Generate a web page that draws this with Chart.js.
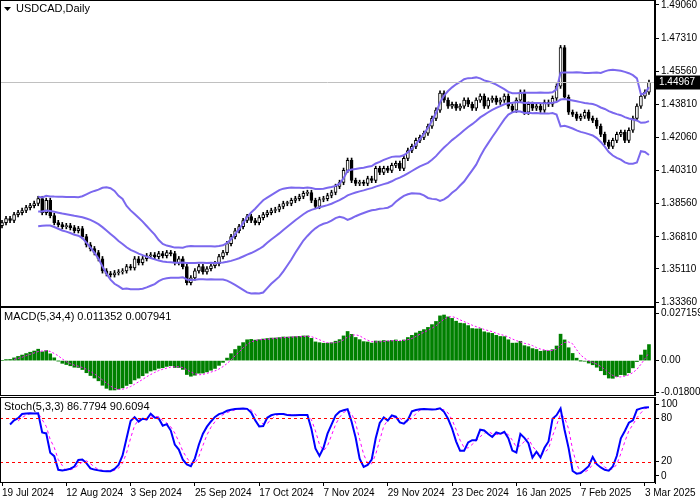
<!DOCTYPE html>
<html><head><meta charset="utf-8">
<script src="https://cdn.jsdelivr.net/npm/chart.js@4"></script>
<style>
body{margin:0;background:#fff;width:700px;height:500px;overflow:hidden;position:relative}
canvas{position:absolute;left:0}
</style></head><body>
<canvas id="c1" width="700" height="307" style="top:0"></canvas>
<canvas id="c2" width="700" height="89" style="top:307px"></canvas>
<canvas id="c3" width="700" height="103" style="top:397px"></canvas>
<script>
const closes=[1.3756,1.3777,1.3767,1.3798,1.3809,1.3820,1.3835,1.3846,1.3857,1.3883,1.3809,1.3873,1.3793,1.3756,1.3745,1.3735,1.3740,1.3729,1.3713,1.3724,
1.3682,1.3639,1.3618,1.3597,1.3565,1.3501,1.3486,1.3480,1.3491,1.3496,1.3501,1.3523,1.3517,1.3565,1.3544,1.3565,1.3581,1.3586,1.3576,1.3592,
1.3581,1.3597,1.3592,1.3544,1.3565,1.3523,1.3438,1.3464,1.3501,1.3523,1.3496,1.3512,1.3528,1.3539,1.3576,1.3597,1.3645,1.3682,1.3713,1.3735,
1.3767,1.3788,1.3767,1.3756,1.3782,1.3798,1.3809,1.3820,1.3825,1.3841,1.3857,1.3857,1.3873,1.3883,1.3894,1.3910,1.3915,1.3873,1.3841,1.3878,
1.3883,1.3899,1.3915,1.3947,1.3968,1.4032,1.4085,1.3979,1.3963,1.3968,1.3963,1.3989,1.3979,1.4042,1.4021,1.4042,1.4032,1.4058,1.4069,1.4042,
1.4095,1.4137,1.4159,1.4190,1.4206,1.4228,1.4265,1.4307,1.4350,1.4440,1.4403,1.4371,1.4381,1.4360,1.4371,1.4403,1.4381,1.4360,1.4403,1.4424,
1.4371,1.4403,1.4413,1.4392,1.4403,1.4424,1.4371,1.4350,1.4403,1.4445,1.4339,1.4381,1.4360,1.4371,1.4350,1.4392,1.4381,1.4413,1.4477,1.4680,
1.4418,1.4339,1.4328,1.4307,1.4318,1.4339,1.4307,1.4296,1.4265,1.4222,1.4180,1.4159,1.4190,1.4222,1.4233,1.4190,1.4244,1.4307,1.4371,1.4424,
1.4445,1.44967];
const firstOpen=1.3740;
const wick=0.0012;
const dateLabels=["19 Jul 2024","12 Aug 2024","3 Sep 2024","25 Sep 2024","17 Oct 2024","7 Nov 2024","29 Nov 2024","23 Dec 2024","16 Jan 2025","7 Feb 2025","3 Mar 2025"];
const priceTicks=[1.33360,1.35110,1.36810,1.38560,1.40310,1.42060,1.43810,1.45560,1.47310,1.49060];
const macdTicks=[-0.018008,0,0.027159];
const stochTicks=[0,20,80,100];
const titleMain="USDCAD,Daily";
const titleMacd="MACD(5,34,4) 0.011352 0.007941";
const titleStoch="Stoch(5,3,3) 86.7794 90.6094";

const N=closes.length;
const opens=closes.map((c,i)=>i?closes[i-1]:firstOpen);
const highs=closes.map((c,i)=>Math.max(c,opens[i])+wick);
const lows=closes.map((c,i)=>Math.min(c,opens[i])-wick);
// indicators derived from the read prices
function ema(a,p){const k=2/(p+1);let r=[];a.forEach((v,i)=>r.push(i?v*k+r[i-1]*(1-k):v));return r;}
function sma(a,p){return a.map((v,i)=>{if(i<p-1||a[i-p+1]==null)return null;let s=0;for(let j=i-p+1;j<=i;j++)s+=a[j];return s/p;});}
const bbMid=[],bbUp=[],bbLo=[];
for(let i=0;i<N;i++){const p=Math.min(20,i+1);if(p<10){bbMid.push(null);bbUp.push(null);bbLo.push(null);continue;}
let s=0;for(let j=i-p+1;j<=i;j++)s+=closes[j];const m=s/p;let v=0;for(let j=i-p+1;j<=i;j++)v+=(closes[j]-m)**2;const sd=Math.sqrt(v/p);
bbMid.push(m);bbUp.push(m+2*sd);bbLo.push(m-2*sd);}
const e5=ema(closes,5),e34=ema(closes,34);
const macd=closes.map((c,i)=>e5[i]-e34[i]);
const macdSig=sma(macd,4);
const rawNum=[],rawDen=[];
for(let i=0;i<N;i++){let hh=-1e9,ll=1e9;for(let j=Math.max(0,i-4);j<=i;j++){hh=Math.max(hh,highs[j]);ll=Math.min(ll,lows[j]);}rawNum.push(closes[i]-ll);rawDen.push(hh-ll);}
const stK=closes.map((c,i)=>{if(i<2)return null;const n=rawNum[i]+rawNum[i-1]+rawNum[i-2],d=rawDen[i]+rawDen[i-1]+rawDen[i-2];return d?100*n/d:50;});
const stD=sma(stK,3);

const XMIN=-0.5,XMAX=N+0.5;
const FF="'Liberation Sans', Arial, sans-serif";
const font={family:FF,size:10};
function yAxis(min,max,ticks,fmt){return{position:'right',min,max,
 afterFit(s){s.width=45;s.paddingTop=0;s.paddingBottom=0;},
 afterBuildTicks(s){s.ticks=ticks.map(v=>({value:v}));},
 border:{display:true,color:'#000'},
 grid:{drawOnChartArea:false,tickLength:4,color:'#000'},
 ticks:{color:'#000',font,padding:2,autoSkip:false,callback:fmt}};}
function frame(title,extra){return{id:'frame',afterDatasetsDraw(ch){const c=ch.ctx,a=ch.chartArea;c.save();
 if(extra)extra(ch);
 c.strokeStyle='#000';c.lineWidth=1;c.strokeRect(a.left+0.5,a.top+0.5,a.right-a.left-1,a.bottom-a.top-1);
 c.fillStyle='#000';c.font="11px "+FF;c.textBaseline='top';
 if(title===titleMain){c.beginPath();c.moveTo(4,7);c.lineTo(11,7);c.lineTo(7.5,11);c.closePath();c.fill();c.fillText(title,16,3);}
 else c.fillText(title,4,a.top+4);
 c.restore();}};}
const xHidden={type:'linear',min:XMIN,max:XMAX,offset:false,display:false};
const pts=a=>a.map((v,i)=>({x:i,y:v}));
const base={responsive:false,animation:false,devicePixelRatio:1,layout:{padding:0},plugins:{legend:{display:false},tooltip:{enabled:false}}};

new Chart(document.getElementById('c1'),{type:'bar',data:{datasets:[
 {type:'line',data:pts(bbUp),borderColor:'#7B68EE',borderWidth:2,pointRadius:0,order:0},
 {type:'line',data:pts(bbMid),borderColor:'#7B68EE',borderWidth:2,pointRadius:0,order:0},
 {type:'line',data:pts(bbLo),borderColor:'#7B68EE',borderWidth:2,pointRadius:0,order:0},
 {data:closes.map((c,i)=>({x:i,y:[lows[i],highs[i]]})),backgroundColor:'#000',barThickness:1,grouped:false,order:2},
 {data:closes.map((c,i)=>({x:i,y:[opens[i],c]})),backgroundColor:closes.map((c,i)=>c>=opens[i]?'#fff':'#000'),borderColor:'#000',borderWidth:1,borderSkipped:false,barThickness:3,minBarLength:1,grouped:false,order:1}
]},options:{...base,scales:{x:xHidden,y:yAxis(1.3310,1.4932,priceTicks,v=>v.toFixed(5))}},
plugins:[frame(titleMain,ch=>{const c=ch.ctx,a=ch.chartArea,y=Math.round(ch.scales.y.getPixelForValue(closes[N-1]))+0.5;
 c.strokeStyle='#c0c0c0';c.beginPath();c.moveTo(a.left,y);c.lineTo(a.right,y);c.stroke();
 c.fillStyle='#000';c.fillRect(a.right,y-7,45,14);c.fillStyle='#fff';c.font="10px "+FF;c.textBaseline='middle';c.fillText(closes[N-1].toFixed(5),a.right+4,y);})]});

new Chart(document.getElementById('c2'),{type:'bar',data:{datasets:[
 {type:'line',data:pts(macdSig),borderColor:'#FF00FF',borderWidth:1,borderDash:[2,2],pointRadius:0,order:0},
 {data:pts(macd),backgroundColor:'#008000',barThickness:3,order:1}
]},options:{...base,scales:{x:xHidden,y:yAxis(-0.0202,0.0306,macdTicks,v=>v===0?'0.00':v.toFixed(6))}},plugins:[frame(titleMacd)]});

new Chart(document.getElementById('c3'),{type:'line',data:{datasets:[
 {data:pts(stK),borderColor:'#0000FF',borderWidth:2,pointRadius:0},
 {data:pts(stD),borderColor:'#FF00FF',borderWidth:1,borderDash:[3,3],pointRadius:0}
]},options:{...base,scales:{
 x:{type:'linear',min:XMIN,max:XMAX,offset:false,afterBuildTicks(s){s.ticks=dateLabels.map((d,k)=>({value:k*16}));},
  border:{display:false},grid:{drawOnChartArea:false,tickLength:3,color:'#000'},
  ticks:{color:'#000',font,align:'start',maxRotation:0,autoSkip:false,padding:1,callback:(v)=>dateLabels[v/16]}},
 y:yAxis(-9.9,109.9,stochTicks,v=>String(v))}},
plugins:[frame(titleStoch,ch=>{const c=ch.ctx,a=ch.chartArea;c.strokeStyle='#FF0000';c.setLineDash([3,3]);
 [20,80].forEach(v=>{const y=Math.round(ch.scales.y.getPixelForValue(v))+0.5;c.beginPath();c.moveTo(a.left,y);c.lineTo(a.right,y);c.stroke();});c.setLineDash([]);})]});
</script></body></html>
